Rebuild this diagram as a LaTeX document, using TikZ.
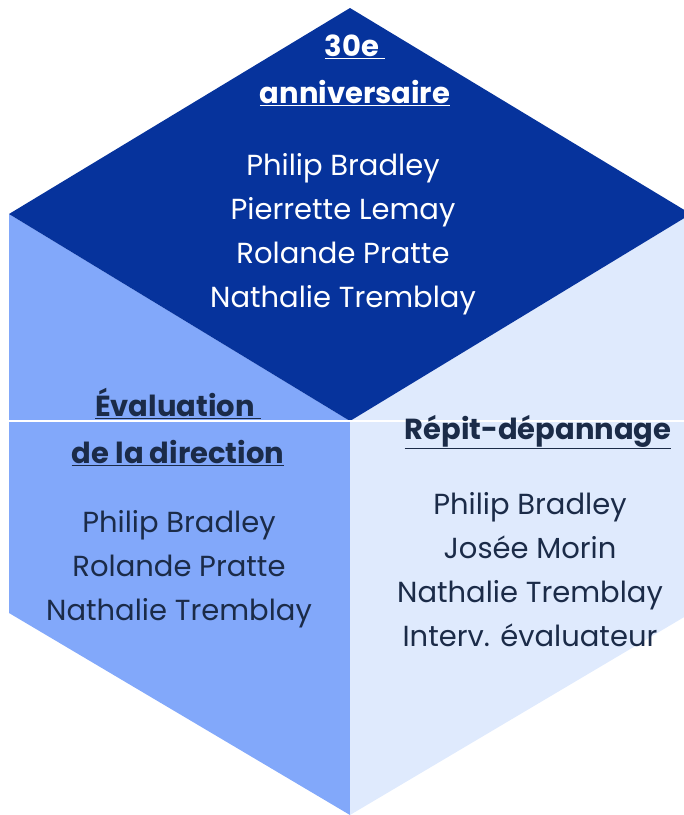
\documentclass[tikz,border=0pt]{standalone}
\usepackage{fontspec}
\setmainfont{Poppins}
\usetikzlibrary{positioning}

\definecolor{topblue}{RGB}{6,51,156}
\definecolor{leftblue}{RGB}{130,168,250}
\definecolor{rightblue}{RGB}{223,234,253}
\definecolor{inkblue}{RGB}{27,43,72}

\tikzset{
  facetitle/.style={align=center, font=\fontsize{29}{47}\selectfont\bfseries, inner sep=0pt},
  facenames/.style={align=center, font=\fontsize{29}{44}\selectfont, inner sep=0pt},
}

\begin{document}
\begin{tikzpicture}[x=1pt,y=-1pt]
  \useasboundingbox (0,0) rectangle (684,815);

  % corners of the cube
  \coordinate (top) at (350,8);
  \coordinate (ul) at (9,214);
  \coordinate (ur) at (691,214);
  \coordinate (mid) at (350,421);
  \coordinate (ll) at (9,613);
  \coordinate (lr) at (691,613);
  \coordinate (bot) at (350,815);

  % faces
  \fill[leftblue] (ul) -- (mid) -- (bot) -- (ll) -- cycle;
  \fill[rightblue] (mid) -- (ur) -- (lr) -- (bot) -- cycle;
  \fill[topblue] (top) -- (ur) -- (mid) -- (ul) -- cycle;
  \draw[white, line width=1.2pt] (ll |- mid) -- (lr |- mid);

  % top face
  \node[facetitle, text=white] (anniv) at (355,70) {\underline{30e\ }\\\underline{anniversaire}};
  \node[facenames, text=white] (annivnames) at (343,234) {Philip Bradley\\Pierrette Lemay\\Rolande Pratte\\Nathalie Tremblay};

  % left face
  \node[facetitle, text=inkblue] (evaltitle) at (178,427) {\underline{Évaluation\ }\\\underline{de la direction}};
  \node[facenames, text=inkblue] (evalnames) at (179,569) {Philip Bradley\\Rolande Pratte\\Nathalie Tremblay};

  % right face
  \node[facetitle, text=inkblue] (repittitle) at (538,432) {\underline{Répit-dépannage}};
  \node[facenames, text=inkblue] (repitnames) at (530,570) {Philip Bradley\\Josée Morin\\Nathalie Tremblay\\Interv. évaluateur};
\end{tikzpicture}
\end{document}
